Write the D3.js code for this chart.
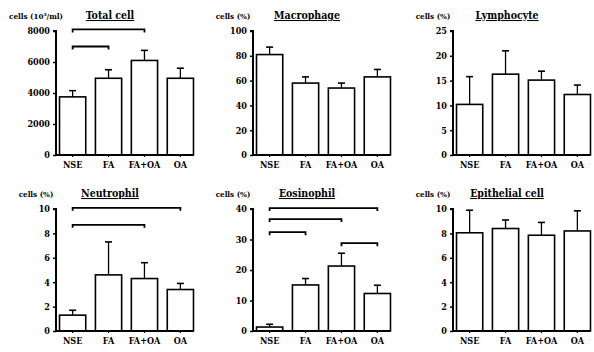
<!DOCTYPE html>
<html>
<head>
<meta charset="utf-8">
<script src="https://cdn.jsdelivr.net/npm/d3@7"></script>
<style>
body { margin: 0; background: #fff; }
svg text { font-family: "DejaVu Serif Condensed", "DejaVu Serif", serif !important; font-weight: bold; fill: #000; }
</style>
</head>
<body>
<div id="chart"></div>
<script>
// chart size
var svgWidth = 594;
var svgHeight = 352;

// data
var groups = ["NSE", "FA", "FA+OA", "OA"];

var titles = ["Total cell", "Macrophage", "Lymphocyte", "Neutrophil", "Eosinophil", "Epithelial cell"];
var yLabels = ["cells (10\u00b3/ml)", "cells (%)", "cells (%)", "cells (%)", "cells (%)", "cells (%)"];
var yMaxes = [8000, 100, 25, 10, 40, 10];
var yTickSteps = [2000, 20, 5, 2, 10, 2];

var totalMean = [3750, 4950, 6100, 4950];
var totalErr = [4150, 5500, 6750, 5600];
var macroMean = [81, 58, 54, 63];
var macroErr = [87, 63, 58, 69];
var lymphMean = [10.2, 16.3, 15.1, 12.2];
var lymphErr = [15.8, 21, 16.9, 14.1];
var neutroMean = [1.3, 4.6, 4.3, 3.4];
var neutroErr = [1.7, 7.3, 5.6, 3.9];
var eosinoMean = [1.3, 15.1, 21.3, 12.3];
var eosinoErr = [2.2, 17.2, 25.5, 15];
var epiMean = [8.05, 8.4, 7.85, 8.2];
var epiErr = [9.9, 9.1, 8.9, 9.85];

var means = [totalMean, macroMean, lymphMean, neutroMean, eosinoMean, epiMean];
var errs = [totalErr, macroErr, lymphErr, neutroErr, eosinoErr, epiErr];

// significance brackets: [from group, to group, level in data units]
var totalBrackets = [["NSE", "FA+OA", 8100], ["NSE", "FA", 7000]];
var neutroBrackets = [["NSE", "OA", 10.1], ["NSE", "FA+OA", 8.7]];
var eosinoBrackets = [["NSE", "OA", 40.3], ["NSE", "FA+OA", 36.7], ["NSE", "FA", 32.4], ["FA+OA", "OA", 28.8]];
var brackets = [totalBrackets, [], [], neutroBrackets, eosinoBrackets, []];

// panel placement
var colX = [56, 253, 453];
var rowTop = [31, 209];
var rowBottom = [155, 331];
var plotWidth = 140;
var serif = '"DejaVu Serif Condensed", "DejaVu Serif", serif';

var svg = d3.select("#chart")
    .append("svg")
    .attr("width", svgWidth)
    .attr("height", svgHeight);

titles.forEach(function(title, i) {
    var col = i % 3;
    var row = Math.floor(i / 3);
    var left = colX[col];
    var top = rowTop[row];
    var bottom = rowBottom[row];

    var g = svg.append("g");

    var x = d3.scaleBand()
        .domain(groups)
        .range([left + 1, left + plotWidth])
        .paddingInner(0.27)
        .paddingOuter(0.07);

    var y = d3.scaleLinear()
        .domain([0, yMaxes[i]])
        .range([bottom, top]);

    var rows = groups.map(function(gName, j) {
        return { group: gName, mean: means[i][j], err: errs[i][j] };
    });

    // bars
    g.selectAll("rect")
        .data(rows)
        .enter()
        .append("rect")
        .attr("x", d => x(d.group))
        .attr("y", d => y(d.mean))
        .attr("width", x.bandwidth())
        .attr("height", d => y(0) - y(d.mean))
        .attr("fill", "#fff")
        .attr("stroke", "#000")
        .attr("stroke-width", 1.6);

    // error bars (upper only)
    var cx = d => x(d.group) + x.bandwidth() / 2;
    g.selectAll(".err")
        .data(rows)
        .enter()
        .append("line")
        .attr("class", "err")
        .attr("x1", cx).attr("x2", cx)
        .attr("y1", d => y(d.mean)).attr("y2", d => y(d.err))
        .attr("stroke", "#000").attr("stroke-width", 1.3);
    g.selectAll(".cap")
        .data(rows)
        .enter()
        .append("line")
        .attr("class", "cap")
        .attr("x1", d => cx(d) - 3.5).attr("x2", d => cx(d) + 3.5)
        .attr("y1", d => y(d.err)).attr("y2", d => y(d.err))
        .attr("stroke", "#000").attr("stroke-width", 1.6);

    // y axis
    var yAxis = d3.axisLeft(y)
        .tickValues(d3.range(0, yMaxes[i] + 0.001, yTickSteps[i]))
        .tickFormat(d3.format("d"))
        .tickSize(3)
        .tickPadding(3);
    var yg = g.append("g")
        .attr("transform", `translate(${left}, 0)`)
        .call(yAxis);
    yg.attr("font-family", serif);
    yg.select(".domain").attr("stroke-width", 2).attr("d", `M-3,${top}H0V${bottom}`);
    yg.selectAll(".tick line").attr("stroke-width", 1.5);
    yg.selectAll("text").style("font-size", "9px");

    // x axis
    var xAxis = d3.axisBottom(x).tickSize(2).tickPadding(5);
    var xg = g.append("g")
        .attr("transform", `translate(0, ${bottom})`)
        .call(xAxis);
    xg.attr("font-family", serif);
    xg.select(".domain").attr("stroke-width", 2).attr("d", `M${left},0H${left + plotWidth - 3}`);
    xg.selectAll(".tick line").attr("stroke-width", 1.2);
    xg.selectAll("text").style("font-size", "9px");

    // significance brackets
    g.selectAll(".bracket")
        .data(brackets[i])
        .enter()
        .append("path")
        .attr("class", "bracket")
        .attr("fill", "none")
        .attr("stroke", "#000")
        .attr("stroke-width", 1.8)
        .attr("d", function(b) {
            var x1 = x(b[0]) + x.bandwidth() / 2;
            var x2 = x(b[1]) + x.bandwidth() / 2;
            var yy = y(b[2]);
            return `M${x1},${yy + 3}V${yy}H${x2}V${yy + 3}`;
        });

    // unit label and title
    g.append("text")
        .attr("x", left - 20)
        .attr("y", top - 12)
        .attr("text-anchor", "middle")
        .style("font-size", "8px")
        .text(yLabels[i]);

    g.append("text")
        .attr("x", left + 54)
        .attr("y", top - 12)
        .attr("text-anchor", "middle")
        .style("font-size", "10.5px")
        .style("text-decoration", "underline")
        .text(title);
});
</script>
</body>
</html>
